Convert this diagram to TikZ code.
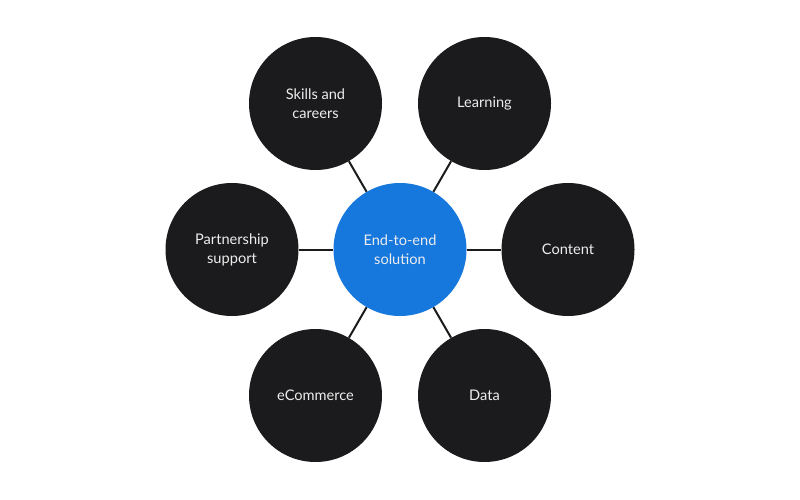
\documentclass[tikz,border=0pt]{standalone}
\usepackage{fontspec}
\setmainfont{Lato}
\definecolor{hubblue}{HTML}{1677DD}
\definecolor{darkc}{HTML}{1B1B1D}
\definecolor{txt}{HTML}{EDEDED}
\begin{document}
\begin{tikzpicture}[x=1pt,y=-1pt,
  bubble/.style={circle,fill=darkc,minimum size=133pt,inner sep=0pt,text=txt,align=center,font=\fontsize{14.6}{19}\selectfont},
  hub/.style={bubble,fill=hubblue},
  link/.style={draw=darkc,line width=2pt}]
\useasboundingbox (0,0) rectangle (800,500);
\node[hub] (c) at (400,249.5) {End-to-end\\solution};
\node[bubble] (s) at (315.5,103.5) {Skills and\\careers};
\node[bubble] (l) at (484.5,103.5) {Learning};
\node[bubble] (ct) at (568,249.5) {Content};
\node[bubble] (d) at (484.5,395.5) {Data};
\node[bubble] (e) at (315.5,395.5) {eCommerce};
\node[bubble] (p) at (232,249.5) {Partnership\\support};
\foreach \n in {s,l,ct,d,e,p} \draw[link] (c) -- (\n);
\end{tikzpicture}
\end{document}
